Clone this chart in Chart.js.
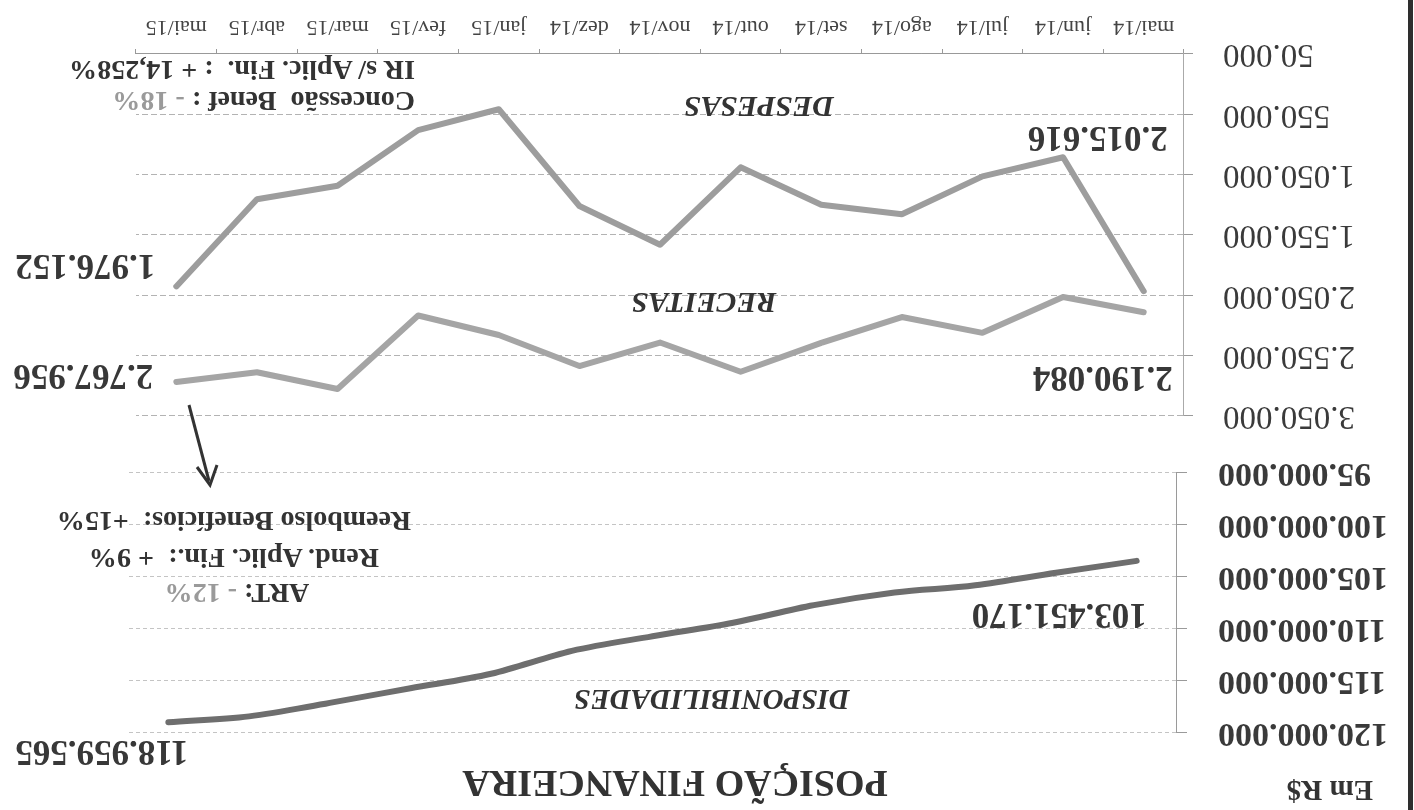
<!DOCTYPE html>
<html lang="pt-BR">
<head>
<meta charset="utf-8">
<title>Posição Financeira</title>
<script src="https://cdn.jsdelivr.net/npm/chart.js@4"></script>
<style>
    html, body { margin: 0; padding: 0; background: #fff; overflow: hidden; }
    /* a digitalização original está de cabeça para baixo */
    #folha {
        position: absolute; left: 0; top: 0; width: 1414px; height: 810px;
        transform: rotate(180deg); transform-origin: 50% 50%;
        background: #fff; color: #333;
        font-family: 'Liberation Serif', 'Times New Roman', serif;
    }
    #borda { position: absolute; left: 1px; top: 0; width: 5px; height: 810px; background: #2e2e2e; }
    canvas { position: absolute; left: 0; }
    #graficoDisp { top: 0; }
    #graficoFluxo { top: 340px; }
    .txt { position: absolute; white-space: nowrap; line-height: 1; font-weight: bold; }
    .centro { transform: translate(-50%, -50%); }
    .esq { transform: translate(0, -50%); }
    .serie { font-style: italic; font-size: 30px; }
    .nota { font-size: 28px; }
    .cinza { color: #9a9a9a; }
    svg { position: absolute; left: 0; top: 0; }
</style>
</head>
<body>
<div id="folha">
    <div id="borda"></div>
    <canvas id="graficoDisp" width="1414" height="400"></canvas>
    <canvas id="graficoFluxo" width="1414" height="470"></canvas>

    <div class="txt esq" style="left:41px; top:19px; font-size:29px;">Em R$</div>
    <div class="txt centro" style="left:739px; top:26px; font-size:38px;">POSIÇÃO FINANCEIRA</div>

    <div class="txt centro serie" style="left:702px; top:110px; font-size:29px;">DISPONIBILIDADES</div>
    <div class="txt centro serie" style="left:710px; top:507px;">RECEITAS</div>
    <div class="txt centro serie" style="left:655px; top:703px;">DESPESAS</div>

    <div class="txt centro nota" style="left:1177px; top:217px;">ART:<span class="cinza"> - 12%</span></div>
    <div class="txt centro nota" style="left:1180px; top:252px;">Rend. Aplic. Fin.:&nbsp; + 9%</div>
    <div class="txt centro nota" style="left:1180px; top:289px;">Reembolso Benefícios:&nbsp; +15%</div>
    <div class="txt esq nota" style="left:999px; top:709px;">Concessão&nbsp; Benef : <span class="cinza">- 18%</span></div>
    <div class="txt esq nota" style="left:999px; top:740px;">IR s/ Aplic. Fin.&nbsp; : + 14,258%</div>

    <svg width="1414" height="810">
        <line x1="1225" y1="405" x2="1205" y2="329" stroke="#333" stroke-width="3" />
        <polyline points="1217,343 1204,325 1197,345" fill="none" stroke="#333" stroke-width="3" />
    </svg>
</div>

<script>
const meses = ['mai/14', 'jun/14', 'jul/14', 'ago/14', 'set/14', 'out/14', 'nov/14',
               'dez/14', 'jan/15', 'fev/15', 'mar/15', 'abr/15', 'mai/15'];

const disponibilidades = [103451170, 104600000, 105800000, 106500000, 107700000, 109400000, 110700000,
                          112100000, 114300000, 115700000, 117100000, 118400000, 118959565];
const receitas = [2190084, 2064000, 2361000, 2230000, 2444000, 2683000, 2441000,
                  2636000, 2379000, 2217000, 2826000, 2687000, 2767956];
const despesas = [2015616, 905600, 1064000, 1378000, 1300000, 989000, 1631000,
                  1310000, 508000, 681000, 1142000, 1254000, 1976152];

const ticksDisp = [95000000, 100000000, 105000000, 110000000, 115000000, 120000000];
const ticksFluxo = [50000, 550000, 1050000, 1550000, 2050000, 2550000, 3050000];

Chart.defaults.font.family = "'Liberation Serif', 'Times New Roman', serif";

function formatBR(v) {
    return Math.round(v).toString().replace(/\B(?=(\d{3})+(?!\d))/g, '.');
}

// rótulos dos valores nas pontas das linhas
const rotulosPlugin = {
    id: 'rotulos',
    afterDatasetsDraw(chart, args, opts) {
        const ctx = chart.ctx;
        (opts.itens || []).forEach(it => {
            const pt = chart.getDatasetMeta(it.serie).data[it.indice];
            const valor = chart.data.datasets[it.serie].data[it.indice];
            ctx.save();
            ctx.font = "bold 35px 'Liberation Serif'";
            ctx.fillStyle = '#383838';
            ctx.textAlign = 'left';
            ctx.textBaseline = 'middle';
            ctx.fillText(formatBR(valor), pt.x + it.dx, pt.y + it.dy);
            ctx.restore();
        });
    }
};

function GraficoDisponibilidades() {
    const ctx = document.getElementById('graficoDisp').getContext('2d');
    new Chart(ctx, {
        type: 'line',
        data: {
            labels: meses,
            datasets: [{
                label: 'Disponibilidades',
                data: disponibilidades,
                borderColor: '#6e6e6e',
                borderWidth: 6,
                pointRadius: 0,
                tension: 0.3,
                cubicInterpolationMode: 'monotone',
                borderCapStyle: 'round',
                borderJoinStyle: 'round',
                fill: false
            }]
        },
        options: {
            responsive: false,
            animation: false,
            devicePixelRatio: 1,
            layout: { padding: { left: 0, right: 128, top: 77, bottom: 63 } },
            plugins: {
                legend: { display: false },
                tooltip: { enabled: false },
                rotulos: {
                    itens: [
                        { serie: 0, indice: 0, dx: -10, dy: -52 },
                        { serie: 0, indice: 12, dx: -20, dy: -28 }
                    ]
                }
            },
            scales: {
                x: { type: 'category', display: false, offset: true },
                y: {
                    min: ticksDisp[0],
                    max: ticksDisp[ticksDisp.length - 1],
                    afterFit: s => { s.width = 237; },
                    afterBuildTicks: s => { s.ticks = ticksDisp.map(v => ({ value: v })); },
                    ticks: {
                        callback: v => formatBR(v),
                        font: { size: 34, weight: 'bold' },
                        color: '#3a3a3a',
                        padding: 31
                    },
                    grid: { color: '#c4c4c4', tickColor: '#9a9a9a', tickLength: 10, lineWidth: 1 },
                    border: { color: '#9a9a9a', dash: [4, 3] }
                }
            }
        },
        plugins: [rotulosPlugin]
    });
}

function GraficoReceitasDespesas() {
    const ctx = document.getElementById('graficoFluxo').getContext('2d');
    new Chart(ctx, {
        type: 'line',
        data: {
            labels: meses,
            datasets: [
                {
                    label: 'Receitas',
                    data: receitas,
                    borderColor: '#a5a5a5',
                    borderWidth: 6,
                    pointRadius: 0,
                    tension: 0,
                    borderCapStyle: 'round',
                    borderJoinStyle: 'round',
                    fill: false
                },
                {
                    label: 'Despesas',
                    data: despesas,
                    borderColor: '#9d9d9d',
                    borderWidth: 6,
                    pointRadius: 0,
                    tension: 0,
                    borderCapStyle: 'round',
                    borderJoinStyle: 'round',
                    fill: false
                }
            ]
        },
        options: {
            responsive: false,
            animation: false,
            devicePixelRatio: 1,
            layout: { padding: { left: 0, right: 136, top: 54, bottom: 0 } },
            plugins: {
                legend: { display: false },
                tooltip: { enabled: false },
                rotulos: {
                    itens: [
                        { serie: 0, indice: 0, dx: -29, dy: -64 },
                        { serie: 1, indice: 0, dx: -24, dy: 155 },
                        { serie: 0, indice: 12, dx: 23, dy: 8 },
                        { serie: 1, indice: 12, dx: 21, dy: 22 }
                    ]
                }
            },
            scales: {
                x: {
                    offset: true,
                    afterFit: s => { s.height = 54; },
                    ticks: {
                        font: { size: 22 },
                        color: '#444444',
                        padding: 9,
                        maxRotation: 0,
                        autoSkip: false
                    },
                    grid: { offset: true, drawOnChartArea: false, tickLength: 5, tickColor: '#999999' },
                    border: { color: '#999999' }
                },
                y: {
                    min: ticksFluxo[0],
                    max: ticksFluxo[ticksFluxo.length - 1],
                    afterFit: s => { s.width = 230; },
                    afterBuildTicks: s => { s.ticks = ticksFluxo.map(v => ({ value: v })); },
                    ticks: {
                        callback: v => formatBR(v),
                        font: { size: 33 },
                        color: '#3a3a3a',
                        padding: 30
                    },
                    grid: { color: '#b3b3b3', tickColor: '#9a9a9a', tickLength: 9, lineWidth: 1 },
                    border: { color: '#aaaaaa', dash: [6, 3] }
                }
            }
        },
        plugins: [rotulosPlugin]
    });
}

GraficoDisponibilidades();
GraficoReceitasDespesas();
</script>
</body>
</html>
